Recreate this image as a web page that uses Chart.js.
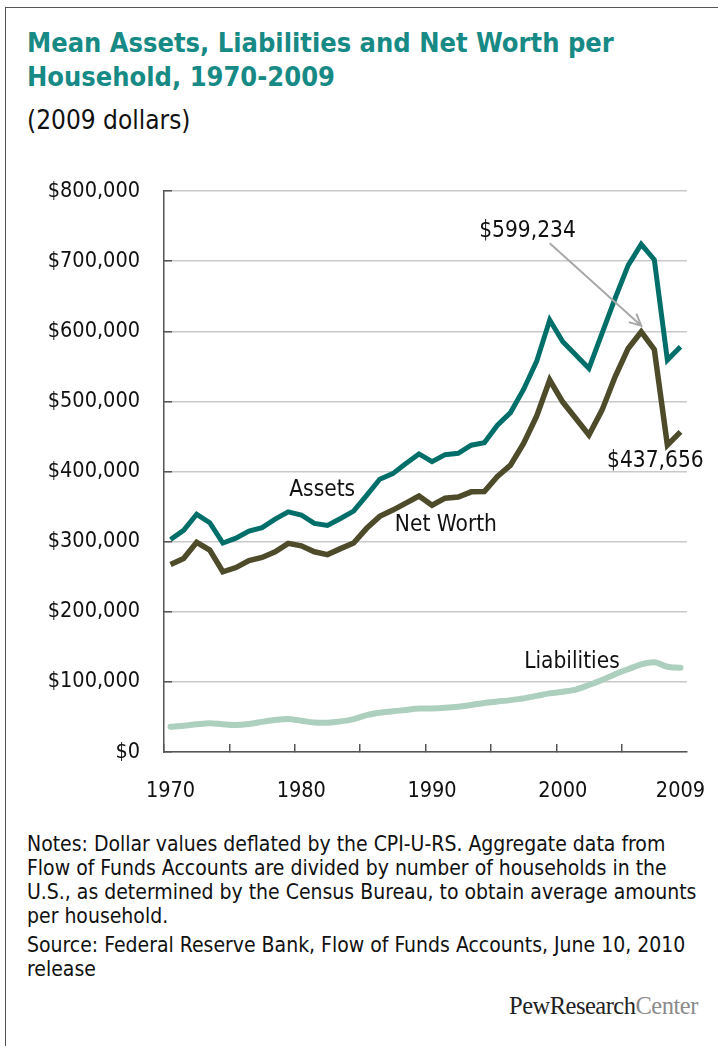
<!DOCTYPE html>
<html>
<head>
<meta charset="utf-8">
<script src="https://cdn.jsdelivr.net/npm/chart.js@4.4.0/dist/chart.umd.min.js"></script>
<style>
  body { margin: 0; background: #fff; font-family: "DejaVu Sans Condensed", "DejaVu Sans", sans-serif; }
  #frame { position: absolute; left: 5px; top: 7px; width: 720px; height: 1046px;
           border-left: 1.5px solid #555; border-top: 1.5px solid #555; }
  #title { position: absolute; left: 27px; top: 26px; font-size: 27px; font-weight: bold;
           line-height: 34px; color: #178a85; }
  #unit { position: absolute; left: 27px; top: 105px; font-size: 26px; color: #111; }
  #wrap { position: absolute; left: 0; top: 170px; width: 718px; height: 650px; }
  #notes { position: absolute; left: 27px; top: 832px; font-size: 21px; white-space: nowrap;
           line-height: 24px; color: #111; }
  #notes p { margin: 0 0 5px 0; }
  #logo { position: absolute; left: 509px; top: 992px; font-family: "Liberation Serif", serif;
          font-size: 24.5px; letter-spacing: -0.5px; color: #222; }
  #logo span { color: #8a8a8a; }
</style>
</head>
<body>
<div id="frame"></div>
<div id="title">Mean Assets, Liabilities and Net Worth per<br>Household, 1970-2009</div>
<div id="unit">(2009 dollars)</div>
<div id="wrap"><canvas id="chart"></canvas></div>
<div id="notes">
  <p>Notes: Dollar values deflated by the CPI-U-RS. Aggregate data from<br>Flow of Funds Accounts are divided by number of households in the<br>U.S., as determined by the Census Bureau, to obtain average amounts<br>per household.</p>
  <p>Source: Federal Reserve Bank, Flow of Funds Accounts, June 10, 2010<br>release</p>
</div>
<div id="logo">PewResearch<span>Center</span></div>

<script>
let years = [];
for (let y = 1970; y <= 2009; y++) years.push(String(y));
let yearLabels = ['1970','1980','1990','2000','2009'];

// mean per household, 2009 dollars
let assets = [303000,316000,339000,327000,298000,305000,315000,320000,332000,342500,
              338000,326000,323000,333000,343500,366000,389000,397000,411500,425000,
              414000,424000,426000,437500,441000,466000,484000,517000,557000,616000,
              585000,566000,547000,597000,647000,694000,724000,702000,559000,578000];
let netWorth = [267500,276000,299000,288000,257000,263000,273000,277500,285500,297500,
                294000,285500,281500,290000,298000,319000,336000,345000,355000,365000,
                352000,362000,363500,371000,371500,393000,409000,440000,479000,530500,
                499000,475500,452000,487500,535000,575500,599234,574000,437656,456500];
let liabilities = [36000,37500,39500,41000,39500,38500,40000,43000,45600,47000,
                   44600,42000,41800,43700,47000,52700,56000,58000,60000,62000,
                   62000,63000,64600,67000,70000,72000,74000,76500,80000,83600,
                   86000,89000,95500,102600,111000,118000,125000,128000,121600,120000];

let yMax = 800000;
let yStep = 100000;

// text placed on the chart, in data units (category index, dollars)
let notes = [
    {text:'Assets', x:11.6, y:373500},
    {text:'Net Worth', x:21.06, y:323600},
    {text:'Liabilities', x:30.7, y:128300},
    {text:'$599,234', x:27.3, y:743000},
    {text:'$437,656', x:37.08, y:414800}
];
let arrowFrom = {x:29.0, y:725600};
let arrowTo = {x:36, y:599234};

const axisGrey = '#555';
const labelFont = {family:'DejaVu Sans Condensed', size:21.5};

const notesPlugin = {
    id:'notes',
    afterDatasetsDraw(chart){
        const ctx = chart.ctx;
        const xs = chart.scales.x, ys = chart.scales.y;
        ctx.save();
        // arrow to the 2006 peak
        const x1 = xs.getPixelForValue(arrowFrom.x), y1 = ys.getPixelForValue(arrowFrom.y);
        const x2 = xs.getPixelForValue(arrowTo.x), y2 = ys.getPixelForValue(arrowTo.y) - 6;
        ctx.strokeStyle = '#a8a8a8';
        ctx.lineWidth = 2;
        ctx.beginPath();
        ctx.moveTo(x1, y1);
        ctx.lineTo(x2, y2);
        const ang = Math.atan2(y2 - y1, x2 - x1);
        ctx.moveTo(x2 - 13*Math.cos(ang - 0.45), y2 - 13*Math.sin(ang - 0.45));
        ctx.lineTo(x2, y2);
        ctx.lineTo(x2 - 13*Math.cos(ang + 0.45), y2 - 13*Math.sin(ang + 0.45));
        ctx.stroke();

        ctx.fillStyle = '#111';
        ctx.font = '22.5px "DejaVu Sans Condensed"';
        ctx.textAlign = 'center';
        ctx.textBaseline = 'middle';
        notes.forEach(function(n){
            ctx.fillText(n.text, xs.getPixelForValue(n.x), ys.getPixelForValue(n.y));
        });
        ctx.restore();
    }
};

let chart = new Chart(document.querySelector('#chart').getContext('2d'),{
    type:'line',
    data:{
        labels:years,
        datasets:[{
            label:'Liabilities',
            data:liabilities,
            borderColor:'#add0be',
            borderWidth:6,
            tension:0.3,
            borderCapStyle:'round'
        },{
            label:'Net Worth',
            data:netWorth,
            borderColor:'#4e4b2a',
            borderWidth:5.5
        },{
            label:'Assets',
            data:assets,
            borderColor:'#006e69',
            borderWidth:5
        }]
    },
    options:{
        responsive:true,
        maintainAspectRatio:false,
        animation:false,
        events:[],
        elements:{point:{radius:0}},
        layout:{padding:{top:21, right:31, left:0, bottom:0}},
        plugins:{legend:{display:false}, tooltip:{enabled:false}},
        scales:{
            x:{
                offset:true,
                grid:{
                    offset:true,
                    drawOnChartArea:false,
                    tickLength:-8,
                    lineWidth:1.5,
                    color:(c) => c.index % 5 === 0 ? axisGrey : 'rgba(0,0,0,0)',
                    tickColor:(c) => c.index % 5 === 0 ? axisGrey : 'rgba(0,0,0,0)'
                },
                border:{display:true, color:axisGrey, width:1.5},
                ticks:{
                    autoSkip:false,
                    maxRotation:0,
                    padding:35,
                    color:'#111',
                    font:labelFont,
                    callback:(v, i) => yearLabels.includes(years[i]) ? years[i] : ''
                },
                afterFit:(s) => { s.height = 68; s.paddingLeft = 0; s.paddingRight = 0; }
            },
            y:{
                min:0,
                max:yMax,
                grid:{color:'#c9c9c9', lineWidth:1.5, tickLength:-8, tickColor:axisGrey},
                border:{display:true, color:axisGrey, width:1.5},
                ticks:{
                    stepSize:yStep,
                    padding:32,
                    color:'#111',
                    font:labelFont,
                    callback:(v) => '$' + v.toLocaleString('en-US')
                },
                afterFit:(s) => { s.width = 164; s.paddingTop = 0; s.paddingBottom = 0; }
            }
        }
    },
    plugins:[notesPlugin]
});
</script>
</body>
</html>
